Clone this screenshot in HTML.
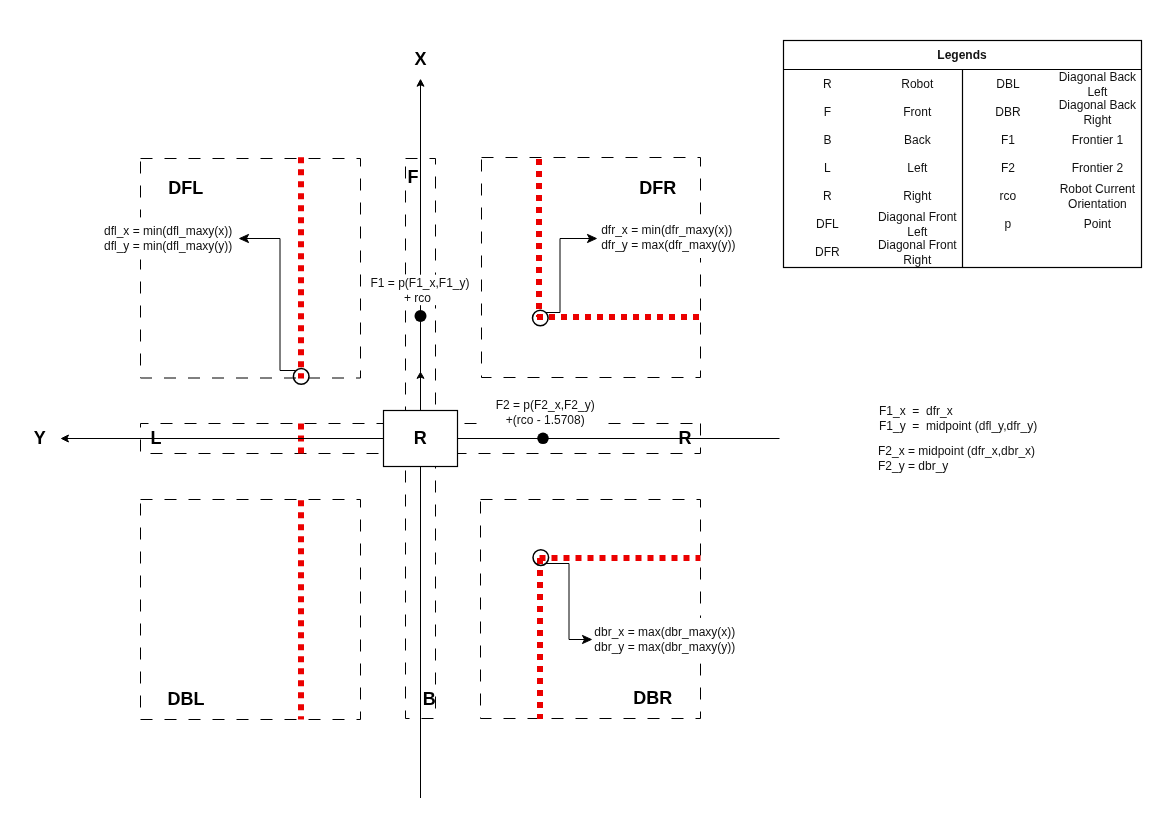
<!DOCTYPE html>
<html><head><meta charset="utf-8"><title>Robot frontier diagram</title>
<style>
html,body{margin:0;padding:0;background:#fff;}
body{width:1170px;height:827px;overflow:hidden;}
svg{display:block;font-family:"Liberation Sans", sans-serif;will-change:transform;}
</style></head>
<body>
<svg width="1170" height="827" viewBox="0 0 1170 827">
<rect x="0" y="0" width="1170" height="827" fill="#fff"/>
<rect x="140.5" y="158.5" width="220" height="219.5" fill="none" stroke="#000" stroke-width="1" stroke-dasharray="12 12"/>
<rect x="481.5" y="157.5" width="219" height="220" fill="none" stroke="#000" stroke-width="1" stroke-dasharray="12 12"/>
<rect x="140.5" y="499.5" width="220" height="220" fill="none" stroke="#000" stroke-width="1" stroke-dasharray="12 12"/>
<rect x="480.5" y="499.5" width="220" height="219" fill="none" stroke="#000" stroke-width="1" stroke-dasharray="12 12"/>
<path d="M405.5,158.5 H435.5 V438.5 H405.5 Z" fill="none" stroke="#000" stroke-width="1" stroke-dasharray="12 12"/>
<path d="M405.5,438.5 H435.5 V718.5 H405.5 Z" fill="none" stroke="#000" stroke-width="1" stroke-dasharray="12 12"/>
<path d="M420.5,423.5 V453.5 H140.5 V423.5 Z" fill="none" stroke="#000" stroke-width="1" stroke-dasharray="12 12"/>
<path d="M700.5,423.5 V453.5 H420.5 V423.5 Z" fill="none" stroke="#000" stroke-width="1" stroke-dasharray="12 12"/>
<path d="M301,157.3 V378.6" fill="none" stroke="#eb0000" stroke-width="6" stroke-dasharray="6 6"/>
<path d="M301,500.3 V719.6" fill="none" stroke="#eb0000" stroke-width="6" stroke-dasharray="6 6"/>
<path d="M301,423.5 V453.5" fill="none" stroke="#eb0000" stroke-width="6" stroke-dasharray="6 6"/>
<path d="M539,159 V317" fill="none" stroke="#eb0000" stroke-width="6" stroke-dasharray="6 6"/>
<path d="M537,317 H700.5" fill="none" stroke="#eb0000" stroke-width="6" stroke-dasharray="6 6"/>
<path d="M539.5,558 H700.5" fill="none" stroke="#eb0000" stroke-width="6" stroke-dasharray="6 6"/>
<path d="M540,558 V719" fill="none" stroke="#eb0000" stroke-width="6" stroke-dasharray="6 6"/>
<path d="M779.5,438.5 H66" fill="none" stroke="#000" stroke-width="1"/>
<path d="M61.5,438.5 L68.50,435.00 L66.75,438.50 L68.50,442.00 Z" fill="#000" stroke="#000" stroke-width="1" stroke-linejoin="round"/>
<path d="M420.5,798 V84" fill="none" stroke="#000" stroke-width="1"/>
<path d="M420.5,79.7 L424.00,86.30 L420.50,84.65 L417.00,86.30 Z" fill="#000" stroke="#000" stroke-width="1" stroke-linejoin="round"/>
<path d="M420.5,372.4 L424.00,378.40 L420.50,376.90 L417.00,378.40 Z" fill="#000" stroke="#000" stroke-width="1" stroke-linejoin="round"/>
<rect x="369" y="274.7" width="102" height="30.5" fill="#fff"/>
<rect x="478" y="396.5" width="128" height="31" fill="#fff"/>
<rect x="100" y="217.4" width="139" height="42.1" fill="#fff"/>
<rect x="597" y="214.5" width="143" height="43.5" fill="#fff"/>
<rect x="592" y="617.9" width="146" height="45.4" fill="#fff"/>
<rect x="383.5" y="410.5" width="74" height="56" fill="#fff" stroke="#000" stroke-width="1.2"/>
<circle cx="420.5" cy="316" r="6" fill="#000"/>
<circle cx="543" cy="438.3" r="5.8" fill="#000"/>
<circle cx="301.2" cy="376.4" r="7.8" fill="none" stroke="#000" stroke-width="1.5"/>
<circle cx="540.3" cy="318" r="7.8" fill="none" stroke="#000" stroke-width="1.5"/>
<circle cx="540.8" cy="557.6" r="7.8" fill="none" stroke="#000" stroke-width="1.5"/>
<path d="M295,370.5 H280 V238.5 H246" fill="none" stroke="#000" stroke-width="1"/>
<path d="M239.6,238.5 L248.60,234.40 L246.35,238.50 L248.60,242.60 Z" fill="#000" stroke="#000" stroke-width="1" stroke-linejoin="round"/>
<path d="M546,312.5 H560 V238.5 H590" fill="none" stroke="#000" stroke-width="1"/>
<path d="M596.4,238.5 L587.40,242.60 L589.65,238.50 L587.40,234.40 Z" fill="#000" stroke="#000" stroke-width="1" stroke-linejoin="round"/>
<path d="M546,563.5 H569 V639.5 H585" fill="none" stroke="#000" stroke-width="1"/>
<path d="M591.4,639.5 L582.40,643.60 L584.65,639.50 L582.40,635.40 Z" fill="#000" stroke="#000" stroke-width="1" stroke-linejoin="round"/>
<text x="414.6" y="65" font-size="18" font-weight="700" text-anchor="start" fill="#000">X</text>
<text x="33.7" y="443.7" font-size="18" font-weight="700" text-anchor="start" fill="#000">Y</text>
<text x="150.4" y="443.6" font-size="18" font-weight="700" text-anchor="start" fill="#000">L</text>
<text x="420.3" y="444" font-size="18" font-weight="700" text-anchor="middle" fill="#000">R</text>
<text x="678.6" y="443.6" font-size="18" font-weight="700" text-anchor="start" fill="#000">R</text>
<text x="407.4" y="183" font-size="18" font-weight="700" text-anchor="start" fill="#000">F</text>
<text x="422.7" y="704.8" font-size="18" font-weight="700" text-anchor="start" fill="#000">B</text>
<text x="168.3" y="193.9" font-size="18" font-weight="700" text-anchor="start" fill="#000">DFL</text>
<text x="639.2" y="193.9" font-size="18" font-weight="700" text-anchor="start" fill="#000">DFR</text>
<text x="167.4" y="704.8" font-size="18" font-weight="700" text-anchor="start" fill="#000">DBL</text>
<text x="633.3" y="703.9" font-size="18" font-weight="700" text-anchor="start" fill="#000">DBR</text>
<text x="420" y="286.5" font-size="12" font-weight="400" text-anchor="middle" fill="#111" xml:space="preserve">F1 = p(F1_x,F1_y)</text>
<text x="417.4" y="301.8" font-size="12" font-weight="400" text-anchor="middle" fill="#111" xml:space="preserve">+ rco</text>
<text x="545.2" y="408.8" font-size="12" font-weight="400" text-anchor="middle" fill="#111" xml:space="preserve">F2 = p(F2_x,F2_y)</text>
<text x="545.2" y="423.7" font-size="12" font-weight="400" text-anchor="middle" fill="#111" xml:space="preserve">+(rco - 1.5708)</text>
<text x="104" y="234.9" font-size="12" font-weight="400" text-anchor="start" fill="#111" xml:space="preserve">dfl_x = min(dfl_maxy(x))</text>
<text x="104" y="249.7" font-size="12" font-weight="400" text-anchor="start" fill="#111" xml:space="preserve">dfl_y = min(dfl_maxy(y))</text>
<text x="601.2" y="233.9" font-size="12" font-weight="400" text-anchor="start" fill="#111" xml:space="preserve">dfr_x = min(dfr_maxy(x))</text>
<text x="601.2" y="249" font-size="12" font-weight="400" text-anchor="start" fill="#111" xml:space="preserve">dfr_y = max(dfr_maxy(y))</text>
<text x="594.3" y="635.7" font-size="12" font-weight="400" text-anchor="start" fill="#111" xml:space="preserve">dbr_x = max(dbr_maxy(x))</text>
<text x="594.3" y="651" font-size="12" font-weight="400" text-anchor="start" fill="#111" xml:space="preserve">dbr_y = max(dbr_maxy(y))</text>
<text x="879" y="414.5" font-size="12" font-weight="400" text-anchor="start" fill="#111" xml:space="preserve">F1_x  =  dfr_x</text>
<text x="879" y="429.5" font-size="12" font-weight="400" text-anchor="start" fill="#111" xml:space="preserve">F1_y  =  midpoint (dfl_y,dfr_y)</text>
<text x="878" y="455.4" font-size="12" font-weight="400" text-anchor="start" fill="#111" xml:space="preserve">F2_x = midpoint (dfr_x,dbr_x)</text>
<text x="878" y="470.3" font-size="12" font-weight="400" text-anchor="start" fill="#111" xml:space="preserve">F2_y = dbr_y</text>
<rect x="783.5" y="40.5" width="358" height="227" fill="none" stroke="#000" stroke-width="1.2"/>
<path d="M783.5,69.5 H1141.5 M962.5,69.5 V267.5" fill="none" stroke="#000" stroke-width="1.2"/>
<text x="962" y="58.6" font-size="12" font-weight="700" text-anchor="middle" fill="#111" xml:space="preserve">Legends</text>
<text x="827.4" y="87.8" font-size="12" font-weight="400" text-anchor="middle" fill="#111" xml:space="preserve">R</text>
<text x="917.3" y="87.8" font-size="12" font-weight="400" text-anchor="middle" fill="#111" xml:space="preserve">Robot</text>
<text x="1007.9" y="87.8" font-size="12" font-weight="400" text-anchor="middle" fill="#111" xml:space="preserve">DBL</text>
<text x="1097.4" y="81.0" font-size="12" font-weight="400" text-anchor="middle" fill="#111" xml:space="preserve">Diagonal Back</text>
<text x="1097.4" y="96.0" font-size="12" font-weight="400" text-anchor="middle" fill="#111" xml:space="preserve">Left</text>
<text x="827.4" y="115.8" font-size="12" font-weight="400" text-anchor="middle" fill="#111" xml:space="preserve">F</text>
<text x="917.3" y="115.8" font-size="12" font-weight="400" text-anchor="middle" fill="#111" xml:space="preserve">Front</text>
<text x="1007.9" y="115.8" font-size="12" font-weight="400" text-anchor="middle" fill="#111" xml:space="preserve">DBR</text>
<text x="1097.4" y="109.0" font-size="12" font-weight="400" text-anchor="middle" fill="#111" xml:space="preserve">Diagonal Back</text>
<text x="1097.4" y="124.0" font-size="12" font-weight="400" text-anchor="middle" fill="#111" xml:space="preserve">Right</text>
<text x="827.4" y="143.8" font-size="12" font-weight="400" text-anchor="middle" fill="#111" xml:space="preserve">B</text>
<text x="917.3" y="143.8" font-size="12" font-weight="400" text-anchor="middle" fill="#111" xml:space="preserve">Back</text>
<text x="1007.9" y="143.8" font-size="12" font-weight="400" text-anchor="middle" fill="#111" xml:space="preserve">F1</text>
<text x="1097.4" y="143.8" font-size="12" font-weight="400" text-anchor="middle" fill="#111" xml:space="preserve">Frontier 1</text>
<text x="827.4" y="171.8" font-size="12" font-weight="400" text-anchor="middle" fill="#111" xml:space="preserve">L</text>
<text x="917.3" y="171.8" font-size="12" font-weight="400" text-anchor="middle" fill="#111" xml:space="preserve">Left</text>
<text x="1007.9" y="171.8" font-size="12" font-weight="400" text-anchor="middle" fill="#111" xml:space="preserve">F2</text>
<text x="1097.4" y="171.8" font-size="12" font-weight="400" text-anchor="middle" fill="#111" xml:space="preserve">Frontier 2</text>
<text x="827.4" y="199.8" font-size="12" font-weight="400" text-anchor="middle" fill="#111" xml:space="preserve">R</text>
<text x="917.3" y="199.8" font-size="12" font-weight="400" text-anchor="middle" fill="#111" xml:space="preserve">Right</text>
<text x="1007.9" y="199.8" font-size="12" font-weight="400" text-anchor="middle" fill="#111" xml:space="preserve">rco</text>
<text x="1097.4" y="193.0" font-size="12" font-weight="400" text-anchor="middle" fill="#111" xml:space="preserve">Robot Current</text>
<text x="1097.4" y="208.0" font-size="12" font-weight="400" text-anchor="middle" fill="#111" xml:space="preserve">Orientation</text>
<text x="827.4" y="227.8" font-size="12" font-weight="400" text-anchor="middle" fill="#111" xml:space="preserve">DFL</text>
<text x="917.3" y="221.0" font-size="12" font-weight="400" text-anchor="middle" fill="#111" xml:space="preserve">Diagonal Front</text>
<text x="917.3" y="236.0" font-size="12" font-weight="400" text-anchor="middle" fill="#111" xml:space="preserve">Left</text>
<text x="1007.9" y="227.8" font-size="12" font-weight="400" text-anchor="middle" fill="#111" xml:space="preserve">p</text>
<text x="1097.4" y="227.8" font-size="12" font-weight="400" text-anchor="middle" fill="#111" xml:space="preserve">Point</text>
<text x="827.4" y="255.8" font-size="12" font-weight="400" text-anchor="middle" fill="#111" xml:space="preserve">DFR</text>
<text x="917.3" y="249.0" font-size="12" font-weight="400" text-anchor="middle" fill="#111" xml:space="preserve">Diagonal Front</text>
<text x="917.3" y="264.0" font-size="12" font-weight="400" text-anchor="middle" fill="#111" xml:space="preserve">Right</text>
</svg>
</body></html>
